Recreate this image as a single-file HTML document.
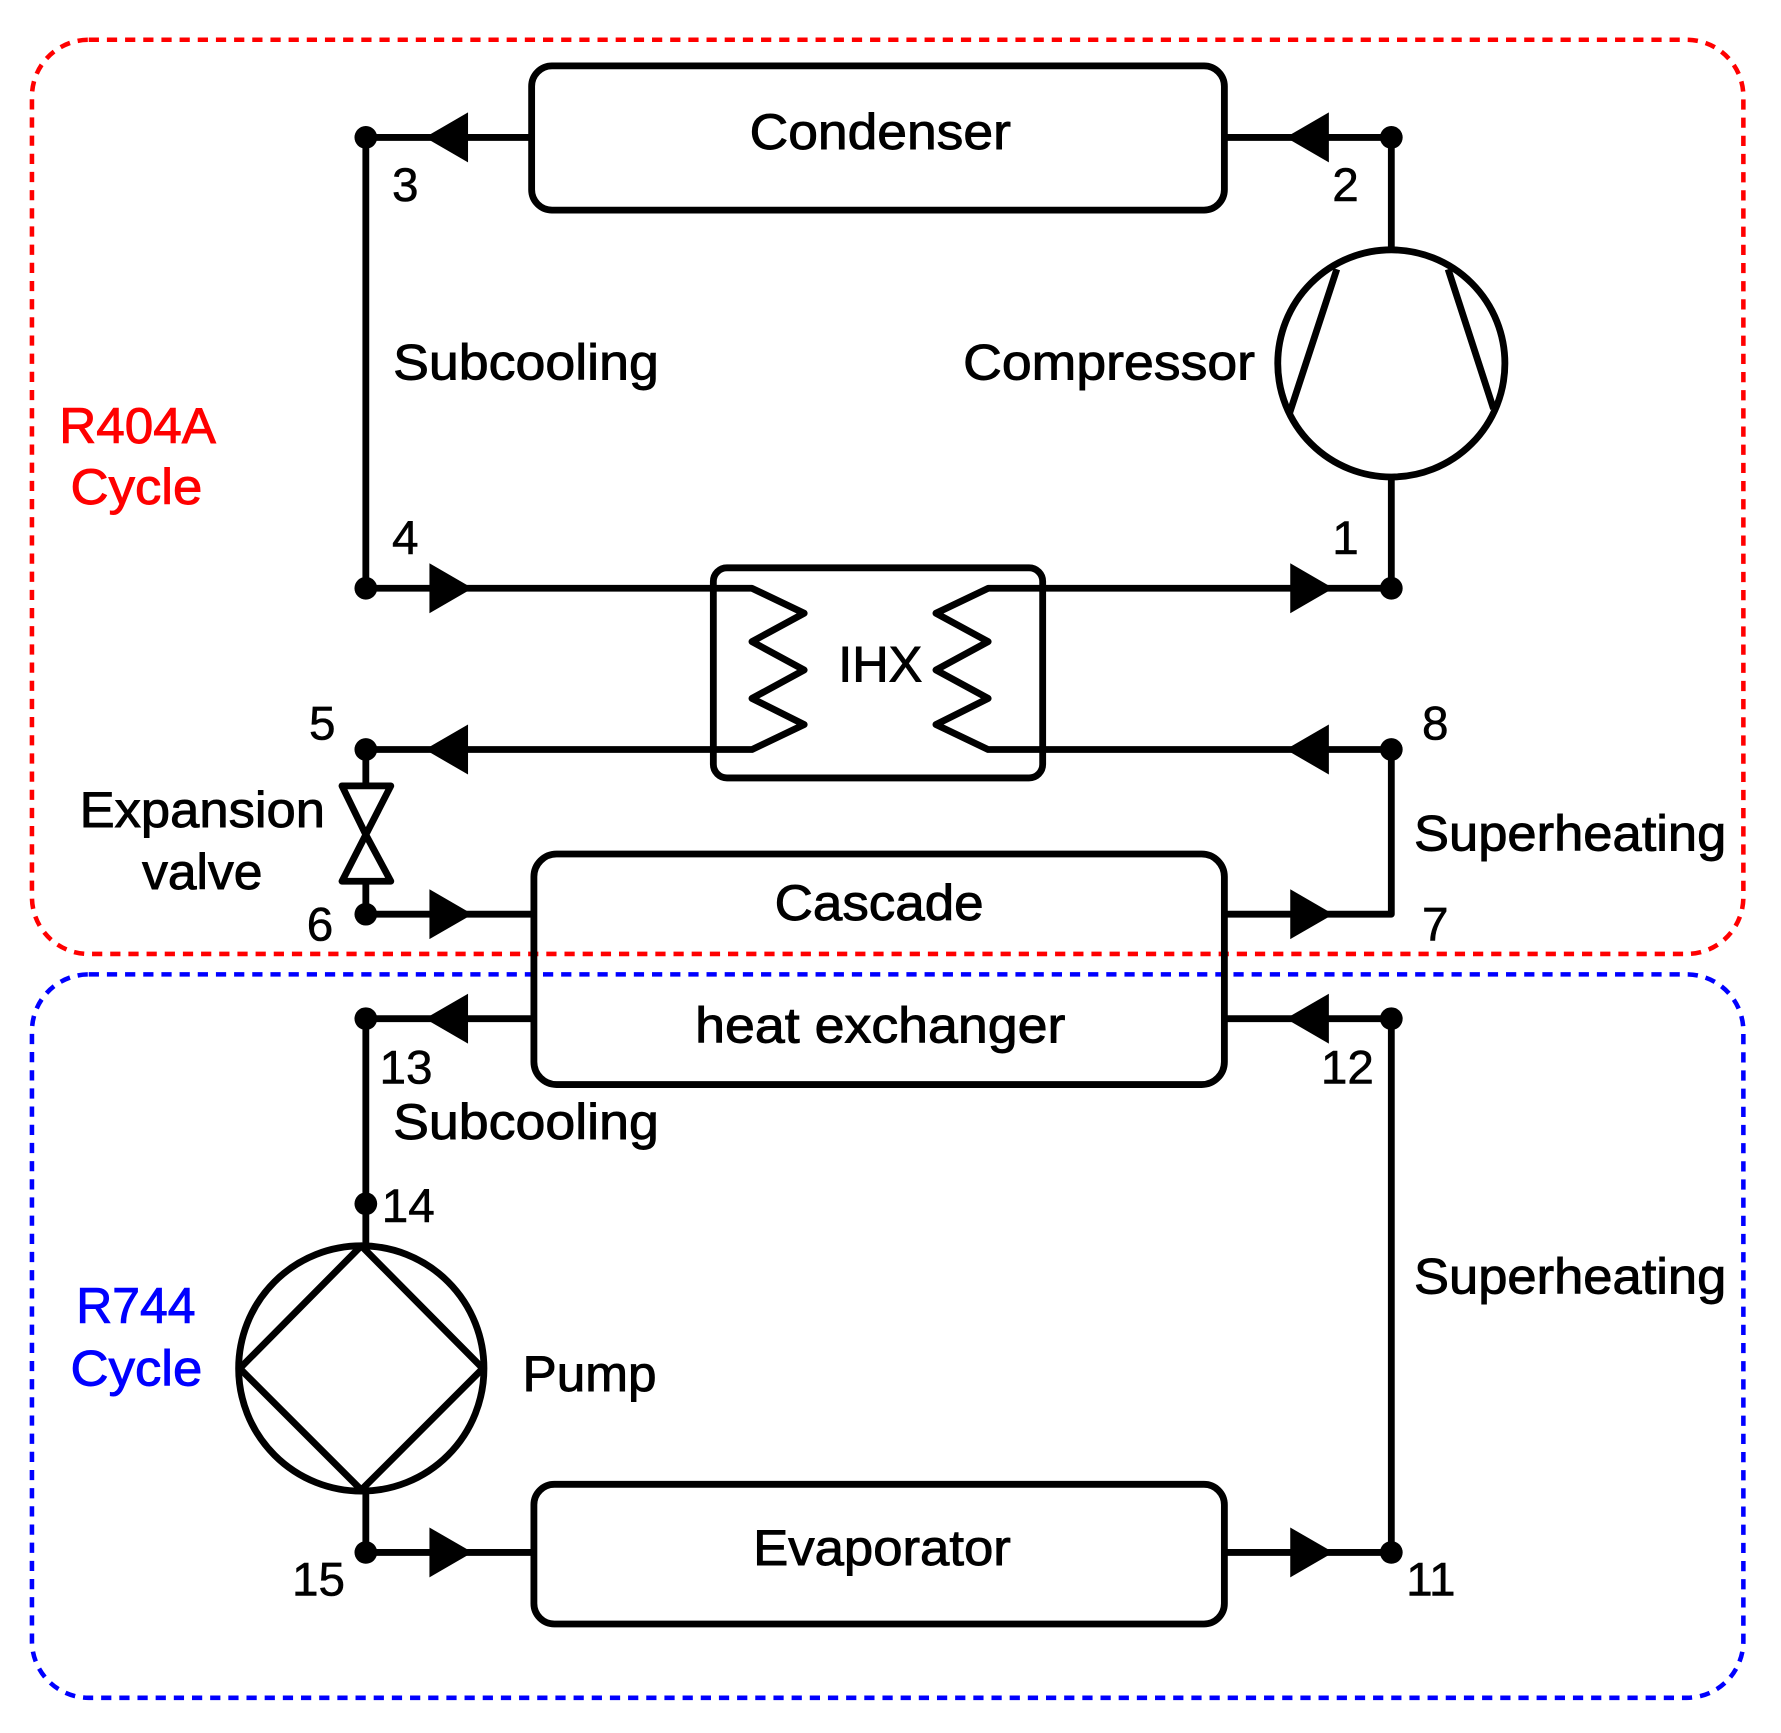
<!DOCTYPE html>
<html><head><meta charset="utf-8"><style>html,body{margin:0;padding:0;background:#fff}svg{display:block}</style></head>
<body>
<svg width="1781" height="1733" viewBox="0 0 1568 1526" xmlns="http://www.w3.org/2000/svg" font-family="Liberation Sans, Arial, sans-serif">
<rect x="28" y="35" width="1507" height="805" rx="50" fill="none" stroke="#f00" stroke-width="4" stroke-dasharray="9,7"/>
<rect x="28" y="858" width="1507" height="637" rx="50" fill="none" stroke="#00f" stroke-width="4" stroke-dasharray="9,7"/>
<g fill="none" stroke="#000" stroke-width="6" stroke-linejoin="round">
<rect x="468" y="58" width="610" height="127" rx="18"/>
<rect x="628" y="500" width="290" height="185" rx="12"/>
<rect x="470" y="752" width="608" height="203" rx="20"/>
<rect x="470" y="1307" width="608" height="123" rx="18"/>
<circle cx="1225" cy="320" r="100"/>
<line x1="1177" y1="237" x2="1135" y2="365"/>
<line x1="1275" y1="237" x2="1315" y2="360"/>
<circle cx="318" cy="1205" r="108"/>
<polygon points="318,1097 425,1205 318,1312 211,1205"/>
<polyline points="322,121 468,121"/>
<polyline points="322,121 322,518 662,518 708,540 662,565 708,590 662,615 708,638 662,660 322,660 322,692"/>
<polyline points="1078,121 1225,121 1225,220"/>
<polyline points="1225,420 1225,518 870,518 824,540 870,565 824,590 870,615 824,638 870,660 1225,660 1225,805 1078,805"/>
<polygon points="301,692 344,692 322,735"/>
<polygon points="322,735 301,776 344,776"/>
<polyline points="322,776 322,805 470,805"/>
<polyline points="470,897 322,897 322,1097"/>
<polyline points="322,1312 322,1367 470,1367"/>
<polyline points="1078,1367 1225,1367 1225,897 1078,897"/>
</g>
<g fill="#000">
<circle cx="322" cy="121" r="10"/><circle cx="1225" cy="121" r="10"/>
<circle cx="322" cy="518" r="10"/><circle cx="1225" cy="518" r="10"/>
<circle cx="322" cy="660" r="10"/><circle cx="1225" cy="660" r="10"/>
<circle cx="322" cy="805" r="10"/><circle cx="322" cy="897" r="10"/>
<circle cx="1225" cy="897" r="10"/><circle cx="322" cy="1060" r="10"/>
<circle cx="322" cy="1367" r="10"/><circle cx="1225" cy="1367" r="10"/>
<polygon points="374,121 412,99 412,143"/>
<polygon points="1132,121 1170,99 1170,143"/>
<polygon points="374,660 412,638 412,682"/>
<polygon points="1132,660 1170,638 1170,682"/>
<polygon points="374,897 412,875 412,919"/>
<polygon points="1132,897 1170,875 1170,919"/>
<polygon points="416,518 378,496 378,540"/>
<polygon points="1174,518 1136,496 1136,540"/>
<polygon points="416,805 378,783 378,827"/>
<polygon points="1174,805 1136,783 1136,827"/>
<polygon points="416,1367 378,1345 378,1389"/>
<polygon points="1174,1367 1136,1345 1136,1389"/>
</g>
<g font-size="44" fill="#000" stroke="#000" stroke-width="0.8" lengthAdjust="spacingAndGlyphs">
<text x="660" y="131" textLength="230" lengthAdjust="spacingAndGlyphs">Condenser</text>
<text x="682" y="810" textLength="184" lengthAdjust="spacingAndGlyphs">Cascade</text>
<text x="612" y="918" textLength="326" lengthAdjust="spacingAndGlyphs">heat exchanger</text>
<text x="663" y="1378" textLength="227" lengthAdjust="spacingAndGlyphs">Evaporator</text>
<text x="738" y="600" textLength="74" lengthAdjust="spacingAndGlyphs">IHX</text>
<text x="346" y="334" textLength="234" lengthAdjust="spacingAndGlyphs">Subcooling</text>
<text x="346" y="1003" textLength="234" lengthAdjust="spacingAndGlyphs">Subcooling</text>
<text x="848" y="334" textLength="257" lengthAdjust="spacingAndGlyphs">Compressor</text>
<text x="1245" y="749" textLength="275" lengthAdjust="spacingAndGlyphs">Superheating</text>
<text x="1245" y="1139" textLength="275" lengthAdjust="spacingAndGlyphs">Superheating</text>
<text x="460" y="1225" textLength="118" lengthAdjust="spacingAndGlyphs">Pump</text>
<text x="70" y="728" textLength="216" lengthAdjust="spacingAndGlyphs">Expansion</text>
<text x="125" y="783" textLength="106" lengthAdjust="spacingAndGlyphs">valve</text>
</g>
<g font-size="44" fill="#f00" stroke="#f00" stroke-width="0.8">
<text x="52" y="390" textLength="138" lengthAdjust="spacingAndGlyphs">R404A</text><text x="62" y="444" textLength="116" lengthAdjust="spacingAndGlyphs">Cycle</text>
</g>
<g font-size="44" fill="#00f" stroke="#00f" stroke-width="0.8">
<text x="67" y="1165" textLength="105" lengthAdjust="spacingAndGlyphs">R744</text><text x="62" y="1220" textLength="116" lengthAdjust="spacingAndGlyphs">Cycle</text>
</g>
<g font-size="42" fill="#000" stroke="#000" stroke-width="0.5">
<text x="345" y="177">3</text>
<text x="1173" y="177">2</text>
<text x="345" y="488">4</text>
<text x="1173" y="488">1</text>
<text x="272" y="651">5</text>
<text x="1252" y="651">8</text>
<text x="270" y="828">6</text>
<text x="1252" y="828">7</text>
<text x="334" y="954">13</text>
<text x="1163" y="954">12</text>
<text x="336" y="1076">14</text>
<text x="257" y="1405">15</text>
<text x="1238" y="1405">11</text>
</g>
</svg>
</body></html>
